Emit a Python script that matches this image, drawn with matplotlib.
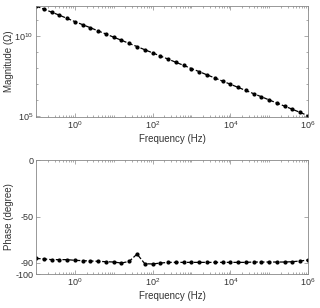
import numpy as np
import matplotlib
matplotlib.use("Agg")
import matplotlib.pyplot as plt
from matplotlib.ticker import LogLocator, NullFormatter, FixedLocator

plt.rcParams['font.family'] = ['Liberation Sans', 'DejaVu Sans']

freq = 10 ** np.linspace(-1, 6, 36)
log_mag = [11.85, 11.66, 11.47, 11.28, 11.08, 10.88, 10.69, 10.50, 10.30, 10.11,
           9.91, 9.72, 9.52, 9.33, 9.13, 8.94, 8.74, 8.55, 8.35, 8.16,
           7.96, 7.77, 7.57, 7.38, 7.18, 6.99, 6.79, 6.60, 6.40, 6.21,
           6.01, 5.82, 5.62, 5.43, 5.23, 5.03]
magnitude = [10 ** v for v in log_mag]
phase = [-86.3, -86.8, -87.4, -87.4, -87.4, -88.0, -88.3, -88.6, -88.9, -89.2,
         -89.5, -90.4, -88.9, -82.5, -91.0, -91.2, -90.4, -89.8, -89.8, -89.8,
         -89.8, -89.8, -89.8, -89.8, -89.8, -89.8, -89.8, -89.8, -89.5, -89.5,
         -89.5, -89.5, -89.5, -89.2, -88.6, -87.7]

fig = plt.figure(figsize=(3.2, 3.08), dpi=100)
ax1 = fig.add_axes([36/320, 1-117/308, 272/320, 111/308])
ax2 = fig.add_axes([36/320, 1-274/308, 272/320, 114/308])

gray = '#888888'
for ax in (ax1, ax2):
    ax.set_xscale('log')
    ax.set_xlim(0.1, 1e6)
    for s in ax.spines.values():
        s.set_color(gray)
        s.set_linewidth(0.6)
    ax.tick_params(which='both', direction='in', top=True, right=True, colors=gray,
                   labelcolor='#333333', labelsize=6.5, width=0.5, pad=2)
    ax.tick_params(which='major', length=3)
    ax.tick_params(which='minor', length=1.5)
    ax.xaxis.set_major_locator(FixedLocator([1, 1e2, 1e4, 1e6]))
    ax.xaxis.set_minor_locator(LogLocator(base=10, subs=np.arange(1, 10), numticks=20))
    ax.xaxis.set_minor_formatter(NullFormatter())
    ax.set_xlabel('Frequency (Hz)', fontsize=7, color='#333333', labelpad=2)

ax1.plot(freq, magnitude, '--', color='black', marker='o', markersize=2, linewidth=0.9)
ax1.set_yscale('log')
ax1.set_ylim(10 ** 4.95, 10 ** 11.85)
ax1.yaxis.set_major_locator(FixedLocator([1e5, 1e10]))
ax1.yaxis.set_minor_locator(FixedLocator([10 ** k for k in range(5, 12)]))
ax1.yaxis.set_minor_formatter(NullFormatter())
ax1.set_ylabel('Magnitude (\u03a9)', fontsize=7, color='#333333')
ax1.yaxis.set_label_coords(-22/272, 0.5)

ax2.plot(freq, phase, '--', color='black', marker='o', markersize=2, linewidth=0.9)
ax2.set_ylim(-100, 0)
ax2.set_yticks([-100, -90, -50, 0])
ax2.set_yticklabels(['-100', '-90', '-50', '0'])
ax2.set_ylabel('Phase (degree)', fontsize=7, color='#333333')
ax2.yaxis.set_label_coords(-22/272, 0.5)

fig.savefig('out.png', dpi=100)
